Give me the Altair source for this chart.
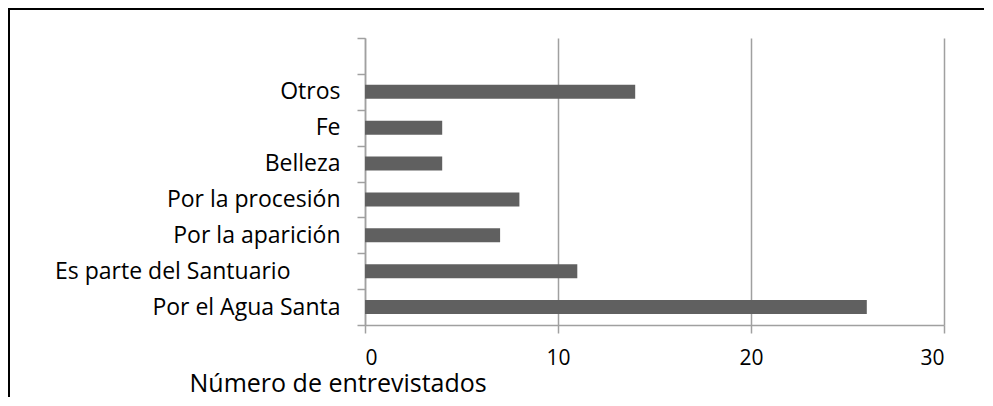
import altair as alt
import pandas as pd

categories = ["Por el Agua Santa", "Es parte del Santuario", "Por la aparición",
              "Por la procesión", "Belleza", "Fe", "Otros"]
values = [26, 11, 7, 8, 4, 4, 14]
x_ticks = [0, 10, 20, 30]
x_title = "Número de entrevistados"

df = pd.DataFrame({"cat": categories, "val": values})
domain = [" "] + categories[::-1]

FONT = "Open Sans"
GRAY = "#a0a0a0"

bars = alt.Chart(df).mark_bar(color="#606060", height={"band": 0.39}).encode(
    x=alt.X("val:Q",
            scale=alt.Scale(domain=[0, 30], nice=False, zero=True),
            axis=alt.Axis(values=x_ticks, grid=True, gridColor=GRAY, gridWidth=1.5,
                          domainColor=GRAY, domainWidth=1.5, tickColor=GRAY, tickWidth=1.5,
                          tickSize=8, labelFontSize=21, labelFont=FONT, labelColor="black",
                          labelPadding=14, title=x_title, titleFont=FONT, titleFontSize=25,
                          titleFontWeight="normal", titleColor="black", titleAlign="left",
                          titleAnchor="start", titleX=-176, titleY=66,
                          titleBaseline="alphabetic")),
    y=alt.Y("cat:N", sort=domain,
            scale=alt.Scale(domain=domain, paddingInner=0, paddingOuter=0),
            axis=alt.Axis(title=None, tickBand="extent", grid=False,
                          domainColor=GRAY, domainWidth=1.5, tickColor=GRAY, tickWidth=1.5,
                          tickSize=8, labelFontSize=23, labelFont=FONT, labelColor="black",
                          labelLimit=0,
                          labelPadding={"condition": {"test": "datum.value == 'Es parte del Santuario'",
                                                      "value": 67},
                                        "value": 17})),
)

frame = alt.Chart(alt.Data(values=[{"a": 1}])).mark_rect(
    filled=False, stroke="black", strokeWidth=2
).encode(
    x=alt.value(-356), x2=alt.value(700), y=alt.value(-29), y2=alt.value(500)
)

chart = alt.layer(bars, frame).properties(
    width=579, height=287,
    padding={"left": 357, "top": 30, "right": 40, "bottom": 72},
    autosize="none",
).configure_view(strokeWidth=0)

chart.save("out.html", embed_options={"renderer": "svg", "actions": False})
